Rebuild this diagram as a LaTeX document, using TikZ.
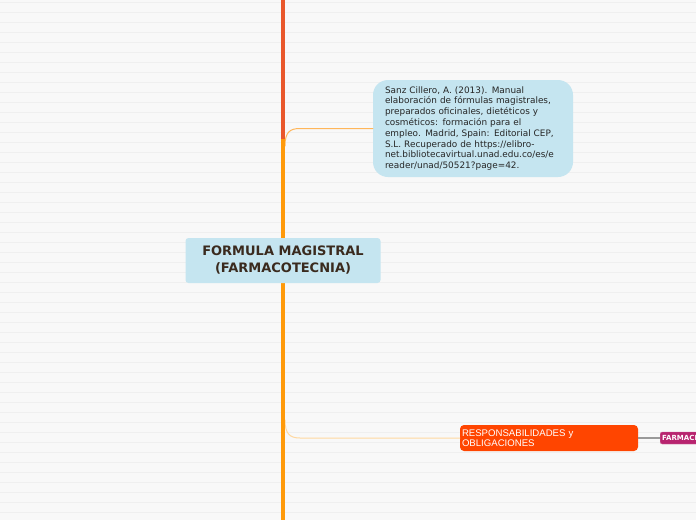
\documentclass[tikz,border=0pt]{standalone}
\usepackage{fontspec}
\setmainfont{DejaVu Sans}
\newfontfamily\arialf{Liberation Sans}
\definecolor{bgc}{HTML}{F8F8F8}
\definecolor{gridc}{HTML}{EFEFEF}
\definecolor{trunkred}{HTML}{E9572B}
\definecolor{trunkor}{HTML}{FF9A0A}
\definecolor{boxblue}{HTML}{C5E5F0}
\definecolor{titlec}{HTML}{3A2A1E}
\definecolor{branchtop}{HTML}{FFB65A}
\definecolor{branchbot}{HTML}{FFD8A0}
\definecolor{respc}{HTML}{FF4500}
\definecolor{magc}{HTML}{B8246F}
\begin{document}
\begin{tikzpicture}[x=1pt,y=-1pt,
  mainbox/.style={fill=boxblue, rounded corners=3pt, minimum width=195pt, minimum height=45pt, inner sep=0pt, align=center, text=titlec, font=\fontsize{13}{17}\selectfont\bfseries},
  refbox/.style={fill=boxblue, rounded corners=15pt, minimum width=200pt, minimum height=97pt, inner sep=0pt, text width=176pt, align=left, text=black!85, font=\fontsize{8.9}{10.8}\selectfont},
  respbox/.style={fill=respc, rounded corners=4pt, minimum width=178pt, minimum height=26pt, inner sep=0pt, text width=174pt, align=left, text=white, font=\arialf\fontsize{9.6}{9.5}\selectfont},
  magbox/.style={fill=magc, draw=magc!70!white, rounded corners=2pt, minimum width=50pt, minimum height=12pt, inner sep=0pt, text width=46pt, align=left, text=white, font=\fontsize{7}{7}\selectfont\bfseries},
  branch/.style={line width=1pt, line cap=round}
]
\useasboundingbox (0,0) rectangle (696,520);
\clip (0,0) rectangle (696,520);
\fill[bgc] (0,0) rectangle (696,520);
\foreach \k in {0,...,51} {
  \draw[gridc, line width=0.8pt] (0,2.7+10*\k) -- (696,2.7+10*\k);
}
% coordinates
\coordinate (ttop) at (283,0);
\coordinate (tmid) at (283,139);
\coordinate (tbot) at (283,520);
\coordinate (b1) at (285,146);
\coordinate (b2) at (285,420);
% nodes
\node[refbox] (ref) at (473,128.5) {Sanz Cillero, A. (2013). Manual\\
elaboración de fórmulas magistrales,\\
preparados oficinales, dietéticos y\\
cosméticos: formación para el\\
empleo. Madrid, Spain: Editorial CEP,\\
S.L. Recuperado de https://elibro-\\
net.bibliotecavirtual.unad.edu.co/es/e\\
reader/unad/50521?page=42.};
\node[respbox] (resp) at (549,438) {RESPONSABILIDADES y\\OBLIGACIONES};
\node[magbox, anchor=west] (farm) at (660,438) {FARMACI};
% branches
\draw[branch, branchtop] (b1) .. controls (285,132) and (290,128.5) .. (300,128.5) -- (ref.west);
\draw[branch, branchbot] (b2) .. controls (285,434) and (290,438) .. (300,438) -- (resp.west);
\draw[line width=1.2pt, gray!80] (resp.east) -- (farm.west);
% trunk
\draw[trunkred, line width=4.5pt] (ttop) -- (tmid);
\draw[trunkor, line width=4.5pt] (tmid) -- (tbot);
\node[mainbox] (main) at (283,260.5) {FORMULA MAGISTRAL\\(FARMACOTECNIA)};
\end{tikzpicture}
\end{document}
